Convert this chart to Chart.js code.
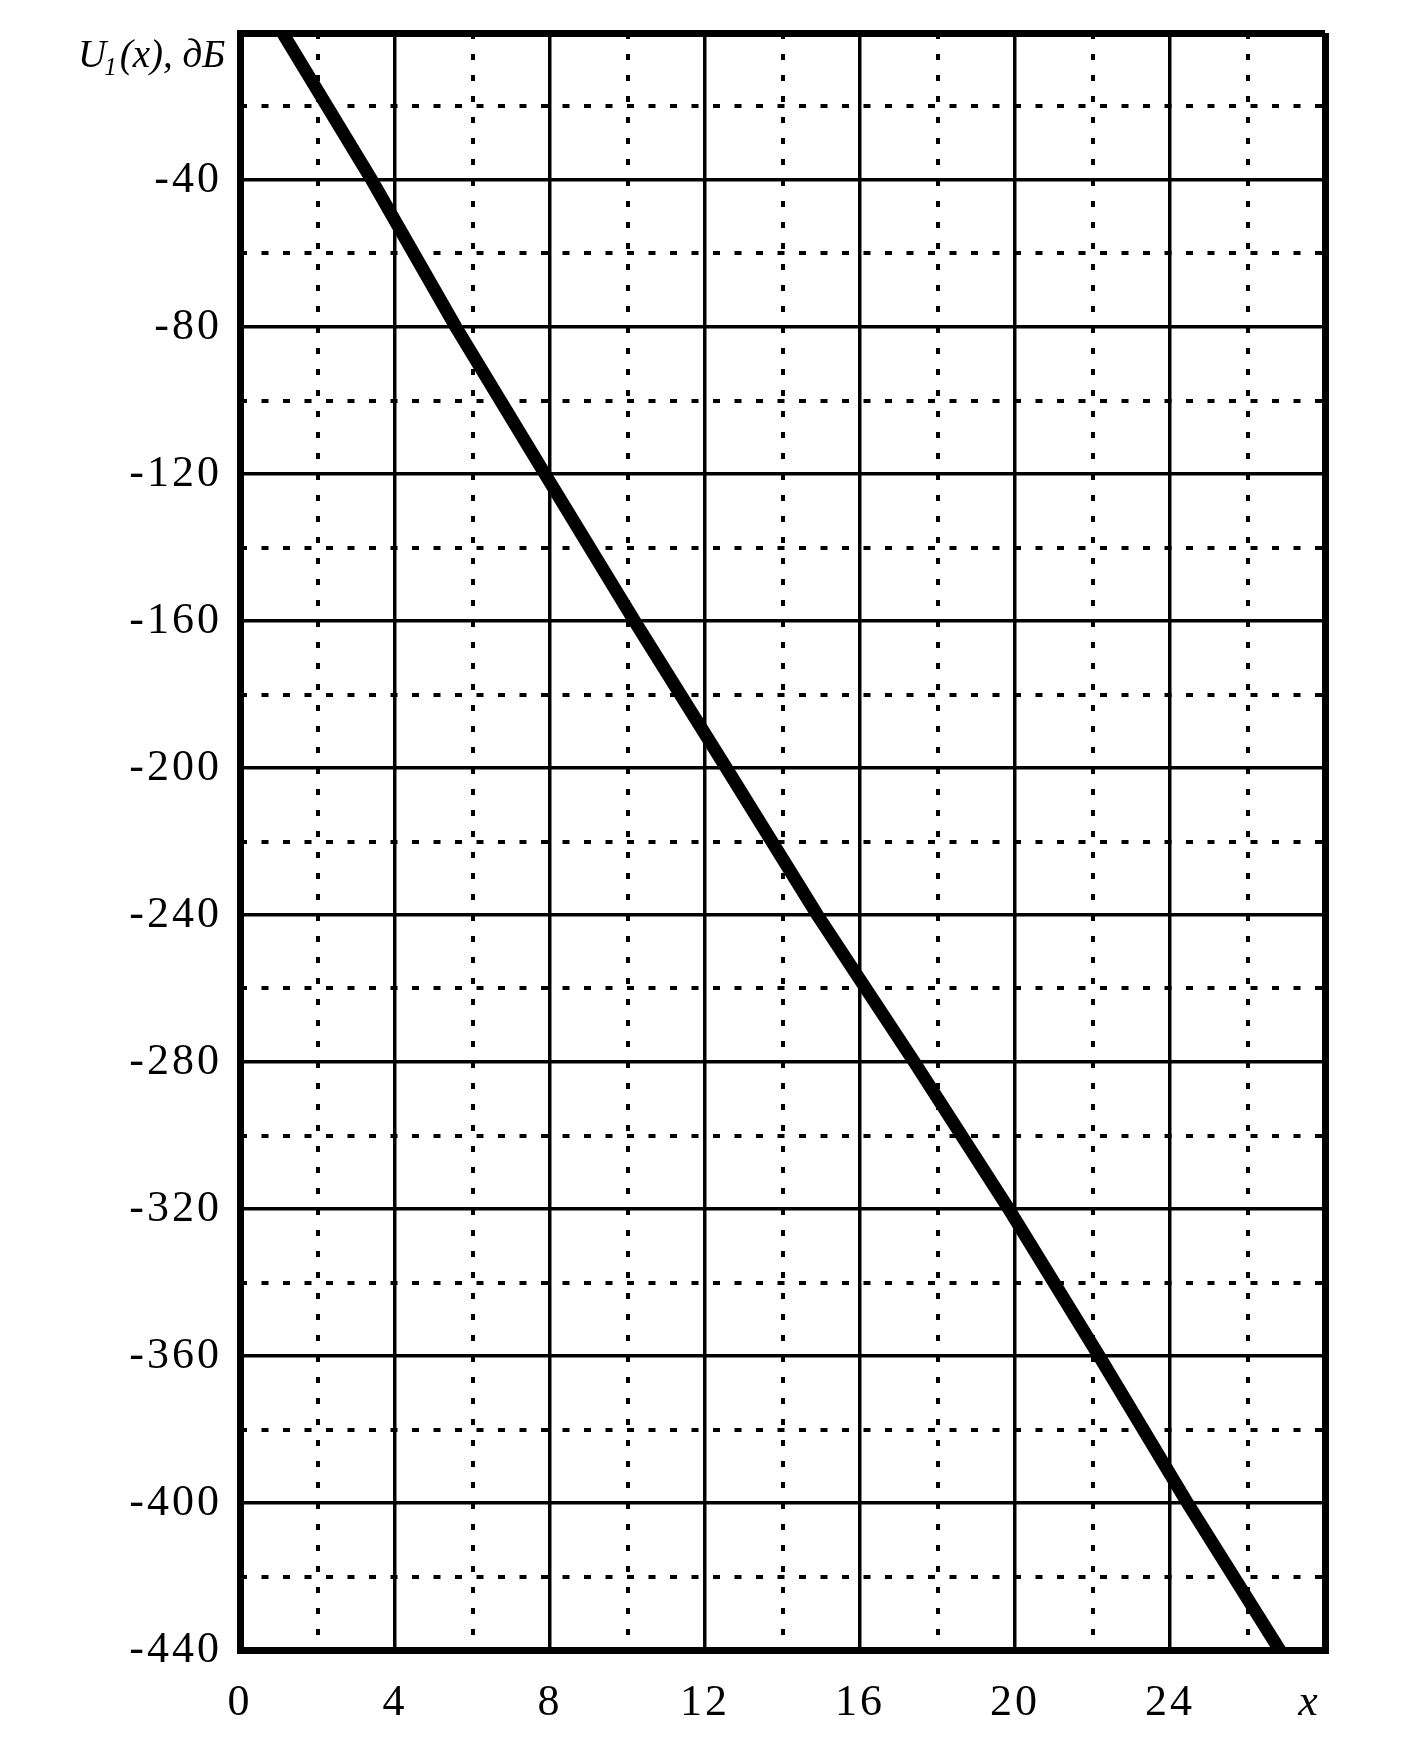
<!DOCTYPE html>
<html>
<head>
<meta charset="utf-8">
<script src="https://cdn.jsdelivr.net/npm/chart.js@4"></script>
<style>
  body { margin: 0; background: #fff; }
  #wrap { width: 1405px; height: 1749px; }
</style>
</head>
<body>
<div id="wrap"><canvas id="uChart" width="1405" height="1749"></canvas></div>
<script>
// values
const xValues = [1.1, 3.4, 5.57, 7.87, 10.18, 12.55, 14.9, 17.4, 19.84, 22.17, 24.45, 26.83];
const uValues = [0, -40, -80, -120, -160, -200, -240, -280, -320, -360, -400, -440];

// axes
const xMajorTicks = [0, 4, 8, 12, 16, 20, 24, 27.6, 28];
const xMajorLabels = ['0', '4', '8', '12', '16', '20', '24', 'x', ''];
const xMinorTicks = [2, 6, 10, 14, 18, 22, 26];
const yMajorTicks = [0, -40, -80, -120, -160, -200, -240, -280, -320, -360, -400, -440];
const yMajorLabels = ['', '-40', '-80', '-120', '-160', '-200', '-240', '-280', '-320', '-360', '-400', '-440'];
const yMinorTicks = [-20, -60, -100, -140, -180, -220, -260, -300, -340, -380, -420];

const axisTitle = { main: 'U', sub: '1', rest: '(x), дБ' };

const serif = "'Liberation Serif', 'Times New Roman', serif";

function spacing(chart) {
    chart.ctx.letterSpacing = '3px';
}

const titlePlugin = {
    id: 'uTitle',
    beforeLayout: spacing,
    beforeDraw: spacing,
    afterDraw(chart) {
        const ctx = chart.ctx;
        ctx.save();
        ctx.letterSpacing = '0px';
        ctx.fillStyle = '#000';
        ctx.textBaseline = 'alphabetic';
        ctx.textAlign = 'left';
        let x = 78;
        const y = 67;
        ctx.font = 'italic 39px ' + serif;
        ctx.fillText(axisTitle.main, x, y);
        x += ctx.measureText(axisTitle.main).width;
        ctx.font = 'italic 25px ' + serif;
        ctx.fillText(axisTitle.sub, x - 2, y + 8);
        x += ctx.measureText(axisTitle.sub).width + 1;
        ctx.font = 'italic 39px ' + serif;
        ctx.fillText(axisTitle.rest, x, y);
        ctx.restore();
    }
};

const whiteBg = {
    id: 'whiteBg',
    beforeDraw(chart) {
        const ctx = chart.ctx;
        ctx.save();
        ctx.fillStyle = '#fff';
        ctx.fillRect(0, 0, chart.width, chart.height);
        ctx.restore();
    }
};

new Chart(document.getElementById('uChart'), {
    type: 'scatter',
    data: {
        datasets: [{
            data: xValues.map((x, i) => ({ x: x, y: uValues[i] })),
            showLine: true,
            borderColor: '#000',
            borderWidth: 13,
            borderCapStyle: 'round',
            pointRadius: 0,
            tension: 0
        }]
    },
    options: {
        responsive: false,
        animation: false,
        layout: { padding: { top: 33, right: 80, left: 0, bottom: 0 } },
        plugins: { legend: { display: false }, tooltip: { enabled: false } },
        scales: {
            xMinor: {
                type: 'linear', position: 'top', min: 0, max: 28,
                afterBuildTicks: s => { s.ticks = xMinorTicks.map(v => ({ value: v })); },
                afterFit: s => { s.height = 0; },
                ticks: { display: false },
                grid: { color: '#000', lineWidth: 4, drawTicks: false },
                border: { display: false, dash: [6, 15] }
            },
            yMinor: {
                type: 'linear', position: 'right', min: -440, max: 0,
                afterBuildTicks: s => { s.ticks = yMinorTicks.map(v => ({ value: v })); },
                afterFit: s => { s.width = 0; s.paddingTop = 0; },
                ticks: { display: false },
                grid: { color: '#000', lineWidth: 4, drawTicks: false },
                border: { display: false, dash: [7, 14.5] }
            },
            x: {
                type: 'linear', position: 'bottom', min: 0, max: 28,
                afterBuildTicks: s => { s.ticks = xMajorTicks.map(v => ({ value: v })); },
                afterFit: s => { s.height = 99; },
                ticks: {
                    color: '#000',
                    padding: 27,
                    maxRotation: 0,
                    autoSkip: false,
                    callback: (v, i) => xMajorLabels[i],
                    font: ctx => xMajorLabels[ctx.index] === 'x'
                        ? { family: serif, size: 44, style: 'italic' }
                        : { family: serif, size: 44 }
                },
                grid: {
                    drawTicks: false,
                    color: ctx => (ctx.tick && ctx.tick.value % 4 === 0) ? '#000' : 'rgba(0,0,0,0)',
                    lineWidth: ctx => (ctx.tick && (ctx.tick.value === 0 || ctx.tick.value === 28)) ? 7 : 3.5
                },
                border: { color: '#000', width: 7 }
            },
            y: {
                type: 'linear', position: 'left', min: -440, max: 0,
                afterBuildTicks: s => { s.ticks = yMajorTicks.map(v => ({ value: v })); },
                afterFit: s => { s.width = 240; s.paddingTop = 0; },
                ticks: {
                    color: '#000',
                    padding: 18,
                    autoSkip: false,
                    callback: (v, i) => yMajorLabels[i],
                    font: { family: serif, size: 44 }
                },
                grid: {
                    drawTicks: false,
                    color: '#000',
                    lineWidth: ctx => (ctx.tick && (ctx.tick.value === 0 || ctx.tick.value === -440)) ? 7 : 3.5
                },
                border: { color: '#000', width: 7 }
            }
        }
    },
    plugins: [whiteBg, titlePlugin]
});
</script>
</body>
</html>
